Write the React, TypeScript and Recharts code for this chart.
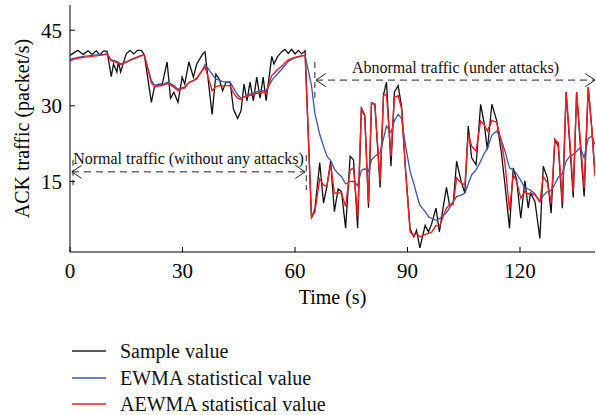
import { LineChart, Line, XAxis, YAxis, ReferenceLine } from 'recharts';

// time stamps (s)
const time = [
  0, 1, 2.1, 3.5, 4.8, 5.9, 7, 7.9, 9, 9.9,
  11, 11.6, 12.5, 12.9, 13.5, 15, 16, 17, 18, 19,
  19.8, 21.7, 22.5, 23.7, 24.6, 25.9, 26.8, 27.7, 28.8, 29.9,
  30.6, 31.7, 32.9, 33.8, 35.4, 36, 37.9, 38.9, 39.8, 40.7,
  41.6, 42.7, 43.6, 44.7, 45.6, 46.4, 47.2, 48, 48.9, 49.8,
  50.7, 51.5, 52.3, 53.8, 54.4, 55.3, 56.4, 57.3, 58.2, 59.1,
  60, 60.9, 61.8, 62.7, 64.4, 65.3, 66.6, 67.6, 68.5, 69.5,
  70.5, 71.5, 72.4, 73.5, 74.7, 75.6, 76.7, 77.7, 78.6, 79.6,
  80.4, 81.3, 82.7, 83.6, 84.4, 85.6, 86.5, 87.5, 88.4, 89.5,
  90.7, 91.7, 92.4, 93.3, 94.7, 95.6, 96.4, 97.6, 98.5, 99.6,
  100.4, 101.2, 102.2, 103.1, 104.3, 105.3, 106.2, 107.1, 108.3, 109.5,
  110.4, 111.3, 112.5, 113.8, 115.1, 116, 117.2, 118.2, 119.1, 120.2,
  121.3, 122.2, 122.8, 124, 125.3, 126.2, 127.3, 128.3, 129.3, 130.2,
  131.3, 132.3, 133.3, 134.2, 135.1, 136.1, 137.1, 138.2, 139.2, 140,
];

const sample = [
  40, 40.5, 41, 40.2, 40.9, 40.2, 40.9, 40.1, 40.9, 40.8,
  35.8, 38.3, 36.7, 38.7, 36.7, 40.3, 41, 40.3, 41, 41,
  40.2, 30.7, 33.7, 34.3, 34.3, 38.7, 31.5, 32.7, 30.7, 35.7,
  34.3, 38.7, 35.7, 38.3, 40.3, 40.7, 28.3, 36.3, 35.3, 33,
  34.7, 34.7, 29.3, 27.5, 29, 34.3, 31, 34.7, 31, 35.7,
  31.5, 35.7, 31, 39.8, 38.3, 39.7, 40.7, 41.2, 40.4, 41.2,
  40.3, 41, 40.3, 40.9, 7.8, 9.5, 18.7, 10.7, 14, 19,
  9, 13.5, 13, 5.7, 20, 19.3, 5.7, 29.5, 28.2, 9.8,
  30.6, 30.3, 13.8, 32.2, 34.7, 18, 32.7, 34, 30, 17,
  5.5, 4, 5.3, 1.8, 6.3, 5, 6.5, 9.7, 5, 10.3,
  13.8, 10.3, 10.7, 19, 15, 12.7, 26, 19.7, 18.3, 30.3,
  26.7, 21.3, 30.3, 27, 20.3, 14.3, 5.7, 17.7, 15.3, 7.7,
  15.1, 9.7, 12.7, 11, 3.7, 18, 15.7, 8.7, 23.3, 22,
  9.7, 32.7, 22, 11.8, 32.7, 22, 12, 33.7, 25, 16.3,
];

const ewma = [
  39.2, 39.4, 39.6, 39.8, 39.9, 40, 40.1, 40.1, 40.2, 40.3,
  39.1, 39, 38.8, 38.6, 38.3, 38.7, 39.1, 39.4, 39.7, 40,
  40.1, 35, 34.2, 34.1, 34.1, 34.7, 34.4, 34, 33.3, 33.6,
  33.7, 34.6, 35, 35.3, 37.2, 38.2, 36.3, 35.3, 35.1, 34.8,
  34.7, 34.7, 33.5, 32.2, 31.5, 31.8, 32, 32.3, 32.5, 32.8,
  32.8, 33, 33, 35, 35.6, 36.3, 37.2, 38, 38.8, 39.2,
  39.5, 39.7, 39.9, 40, 34, 28.5, 24.3, 22, 20, 19.2,
  17.5, 16.5, 16, 14.5, 15, 15, 14.2, 17.2, 17.5, 17,
  19.3, 20, 20.7, 23.5, 26, 24.7, 27, 28.3, 27.5, 22,
  17, 14.5, 12.5, 10.3, 9, 8, 7.7, 7.3, 7.6, 8.3,
  8.8, 9.7, 11, 12, 12.3, 12.7, 14.5, 16.3, 17.3, 19,
  20.5, 21.5, 24.2, 25, 23, 21, 17.7, 17.3, 16.5, 15.2,
  13.7, 13.5, 13.3, 12.5, 11, 12.2, 13, 13.2, 14.5, 15.8,
  16.5, 19, 20, 20.3, 21, 21.7, 19.7, 23.5, 24, 22.3,
];

const aewma = [
  38.9, 39.2, 39.4, 39.6, 39.7, 39.8, 39.9, 40, 40.1, 40.3,
  38.9, 38.8, 38.6, 38.5, 38.2, 38.6, 39, 39.3, 39.6, 39.9,
  40.1, 34.5, 33.9, 33.9, 34, 34.4, 34.1, 33.7, 33, 33.4,
  33.5, 34.6, 35, 35.5, 37.2, 37.8, 33, 33.8, 34, 33.9,
  34, 34, 32.5, 31.5, 31.3, 31.8, 31.8, 32.1, 32.2, 32.5,
  32.4, 32.7, 32.7, 36, 36.4, 37.2, 37.8, 38.5, 39.1, 39.4,
  39.6, 39.8, 39.9, 40, 7.8, 9, 15.5, 14.3, 14, 18.5,
  12.7, 12.7, 12.7, 10, 17.3, 17.7, 8, 29.3, 28, 10.7,
  30.5, 30.3, 15, 32, 32.3, 20, 31.7, 32, 29.5, 17,
  5, 4.2, 4.7, 4, 4.5, 4.7, 4.9, 6.3, 6, 8.3,
  9.7, 10.3, 10.5, 15.7, 14.7, 14.3, 24.3, 22, 21, 27,
  26.3, 25, 27.1, 26.7, 22.7, 18.5, 9.3, 16.3, 15, 11.7,
  13, 12.5, 12.7, 12.3, 11, 16, 14.7, 10.7, 23.3, 22.7,
  11, 32.7, 23, 13, 32.7, 23, 13.7, 33.7, 25, 16,
];

const xTicks = [0, 30, 60, 90, 120];
const yTicks = [15, 30, 45];

const legendItems = [
  { label: 'Sample value', color: '#222' },
  { label: 'EWMA statistical value', color: '#3a56a6' },
  { label: 'AEWMA statistical value', color: '#ee1c25' },
];

const data = time.map((t, i) => ({ t, sample: sample[i], ewma: ewma[i], aewma: aewma[i] }));

const FONT = '"Liberation Serif", "DejaVu Serif", serif';
const AX = { xAxisId: 'bottom', yAxisId: 'left', ifOverflow: 'visible' as const };

// dashed double arrow with open heads, in data coordinates
const arrow = (x1: number, x2: number, y: number, text: string, key: string, offset: number) => {
  const hx = 2.6;
  const hy = 1.3;
  return [
    <ReferenceLine
      key={key + 'l'}
      {...AX}
      segment={[{ x: x1, y }, { x: x2, y }]}
      stroke="#222"
      strokeDasharray="7 5"
      label={{ value: text, position: 'top', offset, fill: '#111', fontSize: 16, fontFamily: FONT }}
    />,
    <ReferenceLine key={key + 'a'} {...AX} segment={[{ x: x1, y }, { x: x1 + hx, y: y + hy }]} stroke="#222" />,
    <ReferenceLine key={key + 'b'} {...AX} segment={[{ x: x1, y }, { x: x1 + hx, y: y - hy }]} stroke="#222" />,
    <ReferenceLine key={key + 'c'} {...AX} segment={[{ x: x2, y }, { x: x2 - hx, y: y + hy }]} stroke="#222" />,
    <ReferenceLine key={key + 'd'} {...AX} segment={[{ x: x2, y }, { x: x2 - hx, y: y - hy }]} stroke="#222" />,
  ];
};

const vDash = (x: number, y1: number, y2: number, key: string) => (
  <ReferenceLine key={key} {...AX} segment={[{ x, y: y1 }, { x, y: y2 }]} stroke="#222" strokeDasharray="6 4" />
);

export default function App() {
  return (
    <div style={{ position: 'absolute', left: 0, top: 0, width: 596, height: 415, background: '#fff', fontFamily: FONT }}>
      <LineChart width={596} height={320} data={data} margin={{ top: 5, right: 1, bottom: 0, left: 0 }}>
        <XAxis
          xAxisId="bottom"
          type="number"
          dataKey="t"
          domain={[0, 140]}
          ticks={xTicks}
          allowDataOverflow
          height={68}
          stroke="#000"
          tickSize={-5}
          tickMargin={16}
          tick={{ fill: '#000', fontSize: 21, fontFamily: FONT }}
          label={{ value: 'Time (s)', position: 'insideTop', offset: 38, fill: '#000', fontSize: 20, fontFamily: FONT }}
        />
        <XAxis
          xAxisId="top"
          orientation="top"
          type="number"
          dataKey="t"
          domain={[0, 140]}
          ticks={xTicks}
          allowDataOverflow
          height={0}
          stroke="#000"
          tickSize={-5}
          tick={false}
        />
        <YAxis
          yAxisId="left"
          domain={[1, 50]}
          ticks={yTicks}
          allowDataOverflow
          width={70}
          stroke="#000"
          tickSize={-5}
          tickMargin={13}
          tick={{ fill: '#000', fontSize: 21, fontFamily: FONT }}
          label={{
            value: 'ACK traffic (packet/s)',
            angle: -90,
            position: 'insideLeft',
            offset: 22,
            fill: '#000',
            fontSize: 20,
            fontFamily: FONT,
            style: { textAnchor: 'middle' },
          }}
        />
        <YAxis
          yAxisId="right"
          orientation="right"
          domain={[1, 50]}
          ticks={yTicks}
          allowDataOverflow
          width={0}
          stroke="#000"
          tickSize={-5}
          tick={false}
        />
        <Line xAxisId="bottom" yAxisId="left" type="linear" dataKey="sample" stroke="#111" strokeWidth={1.3} dot={false} isAnimationActive={false} />
        <Line xAxisId="bottom" yAxisId="left" type="linear" dataKey="ewma" stroke="#3a56a6" strokeWidth={1.3} dot={false} isAnimationActive={false} />
        <Line xAxisId="bottom" yAxisId="left" type="linear" dataKey="aewma" stroke="#ee1c25" strokeWidth={1.4} dot={false} isAnimationActive={false} />
        {arrow(0.5, 62.7, 16.9, 'Normal traffic (without any attacks)', 'n', 8)}
        {vDash(0.8, 19.3, 14.3, 'nv1')}
        {vDash(63, 20.2, 13.3, 'nv2')}
        {arrow(65.6, 140, 35.1, 'Abnormal traffic (under attacks)', 'a', 7)}
        {vDash(65.3, 38.7, 31.6, 'av1')}
      </LineChart>
      <div style={{ position: 'absolute', left: 72, top: 338 }}>
        {legendItems.map((item) => (
          <div key={item.label} style={{ display: 'flex', alignItems: 'center', height: 26.5 }}>
            <svg width={34} height={4} style={{ marginRight: 14 }}>
              <line x1={0} y1={2} x2={34} y2={2} stroke={item.color} strokeWidth={1.4} />
            </svg>
            <span style={{ fontSize: 20, color: '#111', lineHeight: '26px' }}>{item.label}</span>
          </div>
        ))}
      </div>
    </div>
  );
}
